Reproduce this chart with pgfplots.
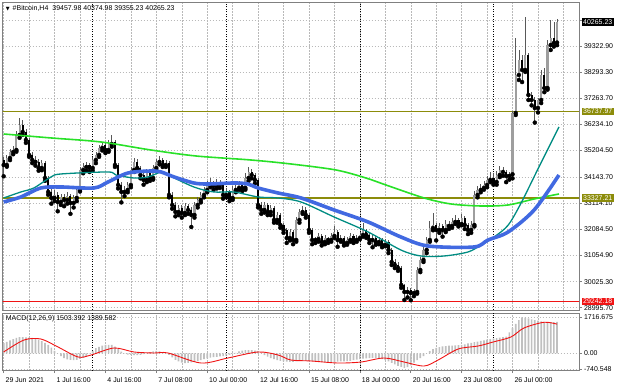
\documentclass[border=0pt]{standalone}
\usepackage{fontspec}
\setmainfont{Liberation Sans}
\newfontfamily\dejavu{DejaVu Sans}
\usepackage{pgfplots}
\usepackage{pgfplotstable}
\pgfplotsset{compat=1.18}
\definecolor{olivel}{RGB}{140,140,10}
\definecolor{mared}{RGB}{240,20,20}
\definecolor{malime}{RGB}{40,225,40}
\definecolor{mateal}{RGB}{0,140,130}
\definecolor{mablue}{RGB}{65,105,225}
\definecolor{gridc}{RGB}{185,185,185}
\definecolor{silverc}{RGB}{192,192,192}
\definecolor{framec}{RGB}{128,128,128}

\pgfplotstableread{
i o h l c
0 34824 34950 34180 34627
1 34627 35010 34560 34903
2 34903 35250 34820 35140
3 35140 35380 35050 35219
4 35219 35950 35150 35811
5 35811 36480 35700 36206
6 36206 36400 35820 35929
7 35929 36050 35500 35614
8 35614 35700 34950 35022
9 35022 35150 34700 34824
10 34824 35000 34600 34745
11 34745 34850 34400 34508
12 34508 34820 34420 34706
13 34706 34780 34000 34114
14 34114 34200 33450 33562
15 33562 33700 33100 33325
16 33325 33650 33200 33443
17 33443 33550 32800 33167
18 33167 33500 33050 33365
19 33365 33480 33000 33246
20 33246 33560 33100 33404
21 33404 33500 32700 33128
22 33128 33450 32950 33325
23 33325 33800 33200 33641
24 33641 34550 33580 34430
25 34430 34700 34300 34548
26 34548 34750 34400 34627
27 34627 34720 34350 34508
28 34508 34950 34400 34824
29 34824 35150 34700 35022
30 35022 35420 34950 35298
31 35298 35550 35200 35416
32 35416 35500 35100 35219
33 35219 35600 35150 35456
34 35456 35811 35350 35535
35 35535 35600 34550 34627
36 34627 34700 33700 33838
37 33838 33950 33150 33562
38 33562 33800 33400 33641
39 33641 33950 33550 33838
40 33838 34550 33750 34430
41 34430 34900 34350 34745
42 34745 34850 34400 34508
43 34508 34600 34100 34232
44 34232 34350 33850 34035
45 34035 34480 33950 34351
46 34351 34450 34000 34114
47 34114 34620 34050 34508
48 34508 34880 34420 34745
49 34745 35000 34650 34824
50 34824 34920 34550 34627
51 34627 34830 34550 34706
52 34706 34780 33350 33443
53 33443 33550 32900 33049
54 33049 33150 32600 32772
55 32772 33050 32650 32930
56 32930 33050 32550 32733
57 32733 33120 32650 33009
58 33009 33100 32700 32851
59 32851 32950 32180 32654
60 32654 33150 32550 33049
61 33049 33380 32950 33246
62 33246 33560 33150 33443
63 33443 33760 33350 33641
64 33641 33980 33550 33838
65 33838 34100 33750 33917
66 33917 34000 33650 33798
67 33798 34080 33700 33956
68 33956 34050 33720 33838
69 33838 33900 33300 33443
70 33443 33700 33350 33562
71 33562 33650 33200 33325
72 33325 33780 33250 33641
73 33641 33880 33550 33720
74 33720 33980 33650 33838
75 33838 33920 33600 33720
76 33720 34300 33650 34114
77 34114 34550 34000 34351
78 34351 34450 34100 34232
79 34232 34320 33900 34035
80 34035 34100 32950 33049
81 33049 33150 32700 32851
82 32851 33180 32750 33049
83 33049 33120 32650 32772
84 32772 33050 32650 32930
85 32930 33000 32350 32457
86 32457 32780 32350 32654
87 32654 32750 32150 32259
88 32259 32350 31950 32062
89 32062 32150 31550 31746
90 31746 32100 31650 31983
91 31983 32050 31500 31667
92 31667 32580 31600 32457
93 32457 32900 32350 32772
94 32772 33000 32700 32851
95 32851 32950 32550 32654
96 32654 32720 31950 32062
97 32062 32150 31500 31667
98 31667 31800 31550 31700
99 31700 31950 31600 31825
100 31825 31900 31450 31588
101 31588 31880 31500 31746
102 31746 31800 31550 31667
103 31667 31950 31600 31825
104 31825 32200 31750 31983
105 31983 32050 31400 31667
106 31667 31850 31600 31746
107 31746 31820 31450 31549
108 31549 31780 31480 31667
109 31667 31950 31600 31825
110 31825 31900 31550 31667
111 31667 31860 31600 31746
112 31746 32000 31700 31865
113 31865 32350 31800 32062
114 32062 32120 31750 31865
115 31865 31950 31550 31667
116 31667 31880 31380 31746
117 31746 31820 31480 31588
118 31588 31800 31500 31667
119 31667 31750 31380 31470
120 31470 31700 31420 31588
121 31588 31650 31150 31273
122 31273 31350 30680 30799
123 30799 30900 30560 30681
124 30681 30800 30450 30563
125 30563 30650 29780 29892
126 29892 29950 29300 29616
127 29616 29820 29400 29695
128 29695 29780 29290 29576
129 29576 29750 29450 29616
130 29616 30600 29550 30484
131 30484 31000 30400 30878
132 30878 31400 30800 31273
133 31273 31800 31150 31667
134 31667 32400 31600 32141
135 32141 32750 32050 32259
136 32259 32350 31650 32062
137 32062 32350 31950 32220
138 32220 32300 31800 32062
139 32062 32450 31980 32299
140 32299 32400 32100 32220
141 32220 32550 32150 32378
142 32378 32650 32300 32457
143 32457 32550 32200 32299
144 32299 32700 32250 32536
145 32536 32600 32100 32259
146 32259 32350 31900 32062
147 32062 32400 31950 32259
148 32259 33600 32200 33443
149 33443 33780 33350 33641
150 33641 33880 33550 33720
151 33720 33980 33650 33838
152 33838 34200 33750 34035
153 34035 34350 33950 34114
154 34114 34300 33850 33956
155 33956 34400 33850 34232
156 34232 34600 34150 34430
157 34430 34550 34200 34351
158 34351 34420 33950 34193
159 34193 34350 34050 34260
160 34260 36760 34100 36679
161 36679 39639 36600 38178
162 38178 39165 37981 38771
163 38771 38950 37900 38376
164 38376 40467 38300 38968
165 38968 39050 37192 37389
166 37389 37500 36980 37192
167 37192 37300 36300 36876
168 36876 37270 36700 37192
169 37192 38380 37070 38178
170 38178 38450 37500 37665
171 37665 39560 37600 39362
172 39362 40349 39165 39639
173 39639 40270 39300 39441
174 39457.98 40374.98 39355.23 40265.23
}\candles

\pgfplotstableread{
i v
0 491
1 550
2 620
3 680
4 730
5 770
6 775
7 765
8 750
9 735
10 700
11 650
12 580
13 500
14 400
15 270
16 120
17 0
18 -130
19 -230
20 -290
21 -310
22 -320
23 -315
24 -270
25 -220
26 -120
27 -20
28 120
29 250
30 310
31 360
32 396
33 400
34 396
35 320
36 200
37 80
38 -10
39 -60
40 -80
41 -85
42 -85
43 -80
44 -40
45 0
46 50
47 90
48 110
49 90
50 60
51 0
52 -80
53 -200
54 -310
55 -380
56 -440
57 -463
58 -455
59 -435
60 -415
61 -370
62 -320
63 -280
64 -240
65 -210
66 -180
67 -165
68 -150
69 -135
70 -115
71 -70
72 -30
73 20
74 90
75 130
76 150
77 157
78 150
79 130
80 100
81 0
82 -90
83 -160
84 -225
85 -280
86 -330
87 -365
88 -385
89 -400
90 -415
91 -405
92 -385
93 -367
94 -367
95 -367
96 -367
97 -375
98 -385
99 -395
100 -405
101 -410
102 -415
103 -410
104 -405
105 -395
106 -390
107 -380
108 -372
109 -367
110 -330
111 -300
112 -272
113 -255
114 -240
115 -225
116 -224
117 -224
118 -224
119 -280
120 -330
121 -390
122 -460
123 -530
124 -600
125 -650
126 -700
127 -660
128 -580
129 -450
130 -330
131 -230
132 -130
133 0
134 100
135 200
136 260
137 300
138 330
139 348
140 360
141 370
142 380
143 390
144 400
145 430
146 470
147 500
148 535
149 560
150 590
151 620
152 650
153 680
154 700
155 720
156 745
157 770
158 800
159 1000
160 1207
161 1400
162 1588
163 1716
164 1700
165 1660
166 1620
167 1588
168 1560
169 1520
170 1493
171 1480
172 1470
173 1490
174 1503
}\hist

\pgfplotstableread{
i v
0 62
6.4 634
11.7 682
17.1 300
23.4 -176
27.5 -81
34.7 253
41 62
47.3 14
51.7 14
62 -463
70.5 -224
80 62
86.3 -81
90.3 -320
96.7 -367
105.1 -463
112.4 -415
119.6 -224
125.9 -415
132.2 -606
136.6 -320
142.9 205
149.2 348
153.9 539
159.5 777
163.6 1207
169.9 1480
174 1390
}\signal

\pgfplotsset{
  mtgrid/.style={
    grid=major,
    major grid style={gridc, dash pattern=on 1.5bp off 1.5bp, line width=0.5bp},
    minor grid style={gridc, dash pattern=on 1.5bp off 1.5bp, line width=0.5bp},
  },
  mtsep/.style={
    extra x ticks={28,70,112,154},
    extra x tick labels={},
    extra x tick style={grid=major, major tick length=0pt,
      major grid style={black, dash pattern=on 1bp off 1.5bp, line width=0.7bp}},
  },
}

\begin{document}
\begin{tikzpicture}
\useasboundingbox (0bp,0bp) rectangle (620bp,388bp);

\begin{axis}[
  at={(2.7bp,78bp)}, anchor=south west, scale only axis,
  width=576.3bp, height=307.5bp,
  xmin=-0.3, xmax=180.9, ymin=28905, ymax=41039,
  clip mode=individual,
  axis line style={framec, line width=0.8bp},
  mtgrid, mtsep,
  xtick={0,8,...,176}, xticklabels={}, 
  ytick={28995.7,30025.3,31054.9,32084.5,33114.1,34143.7,35204.5,36234.1,37263.7,38293.3,39322.9,40352.5},
  yticklabels={28995.70,30025.30,31054.90,32084.50,33114.10,34143.70,35204.50,36234.10,37263.70,38293.30,39322.90,{}},
  ytick pos=right, yticklabel pos=right,
  tick align=outside, major tick length=2.5bp,
  xtick style={draw=none},
  ytick style={draw=framec, line width=0.6bp},
  yticklabel style={font=\fontsize{7}{8}\selectfont, anchor=west, xshift=-1bp},
]
% levels
\addplot[olivel, line width=1.5bp] coordinates {(-1,36737.97) (182,36737.97)};
\addplot[olivel, line width=1.5bp] coordinates {(-1,33327.21) (182,33327.21)};
\addplot[mared, line width=1.5bp] coordinates {(-1,29242.18) (182,29242.18)};
% wicks
\addplot[only marks, mark=none,
  error bars/.cd, y dir=plus, y explicit, error mark=none,
  error bar style={draw=black!65, line width=0.7bp}]
  table[x=i, y=l, y error expr=\thisrow{h}-\thisrow{l}] {\candles};
% bull bodies
\addplot[only marks, mark=none,
  restrict expr to domain={\thisrow{c}-\thisrow{o}}{0:100000},
  error bars/.cd, y dir=plus, y explicit, error mark=none,
  error bar style={draw=black!38, line width=2.1bp}]
  table[x=i, y=o, y error expr=\thisrow{c}-\thisrow{o}] {\candles};
% bear bodies
\addplot[only marks, mark=none,
  restrict expr to domain={\thisrow{o}-\thisrow{c}}{0.5:100000},
  error bars/.cd, y dir=plus, y explicit, error mark=none,
  error bar style={draw=black, line width=2.1bp}]
  table[x=i, y=c, y error expr=\thisrow{o}-\thisrow{c}] {\candles};
% moving averages
\addplot[malime, line width=1.6bp, smooth, tension=0.5] coordinates {
(0,35850) (15,35693) (30.6,35535) (46.3,35219) (60.5,34982) (77.8,34824) (90.3,34667)
(104.5,34430) (113.9,34114) (120.2,33838) (132.2,33325) (140.7,33088) (150.1,33009)
(158.6,33049) (166.8,33286) (174.6,33483)};
\addplot[mateal, line width=1.3bp, smooth, tension=0.5] coordinates {
(0,33325) (5.4,33562) (9.5,33720) (14.9,34154) (18,34272) (32.8,34351) (35.3,34232)
(41,34114) (45.4,34154) (49.5,34351) (51.7,34232) (59.8,33759) (66.1,33562) (72.4,33562)
(80,33365) (86.3,33325) (93.5,33167) (103.9,32575) (114.6,31983) (124.9,31273)
(131.2,31036) (138.5,31036) (146,31194) (150.1,31470) (154.2,31786) (158.6,32250)
(162.7,33128) (168.3,34548) (174.6,36127)};
\addplot[mablue, line width=3.6bp, smooth, tension=0.5] coordinates {
(0,33167) (5.4,33365) (11.7,33720) (18,33759) (28.4,33720) (32.8,33956) (39.1,34311)
(46.3,34390) (49.5,34351) (53.6,34154) (59.8,33917) (64.2,33877) (72.4,33917) (76.8,33877)
(80,33720) (86.3,33522) (93.5,33325) (103.9,32851) (114.6,32378) (124.9,31786)
(133.4,31431) (147.9,31391) (152.3,31667) (158.6,31983) (166.8,32851) (174.6,34232)};
% price boxes
\node[anchor=west, fill=black, text=white, inner xsep=1.5bp, inner ysep=1.2bp,
  font=\fontsize{7}{8}\selectfont] at (axis cs:180.9,40265.23) [xshift=2.5bp] {40265.23};
\node[anchor=west, fill=olivel, text=white, inner xsep=1.5bp, inner ysep=1.2bp,
  font=\fontsize{7}{8}\selectfont] at (axis cs:180.9,36737.97) [xshift=2.5bp] {36737.97};
\node[anchor=west, fill=olivel, text=white, inner xsep=1.5bp, inner ysep=1.2bp,
  font=\fontsize{7}{8}\selectfont] at (axis cs:180.9,33327.21) [xshift=2.5bp] {33327.21};
\node[anchor=west, fill=mared, text=white, inner xsep=1.5bp, inner ysep=1.2bp,
  font=\fontsize{7}{8}\selectfont] at (axis cs:180.9,29242.18) [xshift=2.5bp] {29242.18};
% title
\node[anchor=west, font=\fontsize{7}{8}\selectfont, inner sep=0pt]
  at (rel axis cs:0,1) [xshift=3bp, yshift=-6bp]
  {{\dejavu\fontsize{5}{6}\selectfont ▼}\hspace{3bp}\#Bitcoin,H4\hspace{4bp}39457.98 40374.98 39355.23 40265.23};
\end{axis}

\begin{axis}[
  at={(2.7bp,17.3bp)}, anchor=south west, scale only axis,
  width=576.3bp, height=57.7bp,
  xmin=-0.3, xmax=180.9, ymin=-830, ymax=1922,
  clip mode=individual,
  axis line style={framec, line width=0.8bp},
  mtgrid, mtsep,
  grid=both,
  xtick={0,16,...,160},
  minor xtick={8,24,...,168},
  xticklabels={29 Jun 2021,1 Jul 16:00,4 Jul 16:00,7 Jul 08:00,10 Jul 00:00,12 Jul 16:00,15 Jul 08:00,18 Jul 00:00,20 Jul 16:00,23 Jul 08:00,26 Jul 00:00},
  xtick pos=bottom,
  xticklabel style={font=\fontsize{7}{8}\selectfont, anchor=north west, xshift=-1.5bp, yshift=-1bp},
  ytick={-740.548,0,1716.675},
  yticklabels={-740.548,0.00,1716.675},
  ytick pos=right, yticklabel pos=right,
  tick align=outside, major tick length=2.5bp, minor tick length=0pt,
  tick style={draw=framec, line width=0.6bp},
  yticklabel style={font=\fontsize{7}{8}\selectfont, anchor=west, xshift=-1bp},
]
\addplot[ybar, bar width=1.7bp, bar shift=0pt, fill=silverc, draw=none] table[x=i, y=v] {\hist};
\addplot[mared, line width=0.9bp, smooth, tension=0.5] table[x=i, y=v] {\signal};
\node[anchor=west, font=\fontsize{7}{8}\selectfont, inner sep=0pt]
  at (rel axis cs:0,1) [xshift=3bp, yshift=-6bp] {MACD(12,26,9) 1503.392 1389.582};
\end{axis}
\end{tikzpicture}
\end{document}
